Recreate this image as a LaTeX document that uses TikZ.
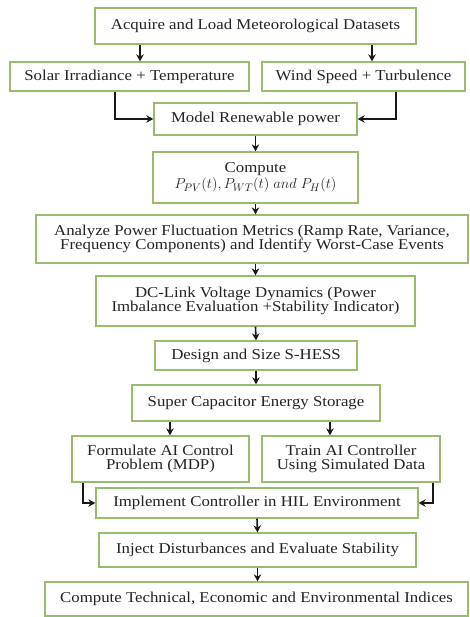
\documentclass[tikz,border=0pt]{standalone}
\usepackage{fontspec}
\setmainfont{Liberation Serif}[FakeStretch=1.12]
\usetikzlibrary{arrows.meta}
\definecolor{boxgreen}{RGB}{150,188,110}
\definecolor{txtgray}{RGB}{35,35,35}
\tikzset{
  box/.style={draw=boxgreen, line width=1.3pt, fill=white, align=center, inner sep=0pt,
    text=txtgray, font=\fontsize{15}{13.5}\selectfont},
  arr/.style={-{Stealth[length=7pt,width=7.5pt]}, line width=1.6pt, black!90}
}
\begin{document}
\begin{tikzpicture}[x=1pt,y=-1pt]
\useasboundingbox (0,0) rectangle (469,617);
\node[box, minimum width=321pt, minimum height=36pt] (acq) at (255.5,26) {Acquire and Load Meteorological Datasets};
\node[box, minimum width=239pt, minimum height=29pt] (sol) at (129.5,76.5) {Solar Irradiance + Temperature};
\node[box, minimum width=203pt, minimum height=29pt] (wind) at (363.5,76.5) {Wind Speed + Turbulence};
\node[box, minimum width=203pt, minimum height=32pt] (model) at (255.5,119) {Model Renewable power};
\node[box, minimum width=205pt, minimum height=51pt] (comp) at (255.5,177.5) {Compute\\[1pt] $P_{PV}(t), P_{WT}(t)\ and\ P_{H}(t)$};
\node[box, minimum width=432pt, minimum height=48pt] (ana) at (252,239) {Analyze Power Fluctuation Metrics (Ramp Rate, Variance,\\ Frequency Components) and Identify Worst-Case Events};
\node[box, minimum width=319pt, minimum height=50pt] (dc) at (255.5,301) {DC-Link Voltage Dynamics (Power\\ Imbalance Evaluation +Stability Indicator)};
\node[box, minimum width=202pt, minimum height=29pt] (des) at (256,355.5) {Design and Size S-HESS};
\node[box, minimum width=248pt, minimum height=36pt] (sup) at (256,403) {Super Capacitor Energy Storage};
\node[box, minimum width=177pt, minimum height=46pt] (form) at (160.5,459) {Formulate AI Control\\ Problem (MDP)};
\node[box, minimum width=178pt, minimum height=46pt] (train) at (351,459) {Train AI Controller\\ Using Simulated Data};
\node[box, minimum width=322pt, minimum height=30pt] (impl) at (257,503) {Implement Controller in HIL Environment};
\node[box, minimum width=317pt, minimum height=34pt] (inj) at (257.5,550) {Inject Disturbances and Evaluate Stability};
\node[box, minimum width=423pt, minimum height=34pt] (tech) at (256.5,599) {Compute Technical, Economic and Environmental Indices};

\draw[arr] (140,0 |- acq.south) -- (140,0 |- sol.north);
\draw[arr] (372,0 |- acq.south) -- (372,0 |- wind.north);
\draw[arr] (115,0 |- sol.south) |- (model.west);
\draw[arr] (396,0 |- wind.south) |- (model.east);
\draw[arr] (model.south) -- (comp.north);
\draw[arr] (comp.south) -- (comp.south |- ana.north);
\draw[arr] (ana.south -| dc.north) -- (dc.north);
\draw[arr] (dc.south) -- (des.north);
\draw[arr] (des.south) -- (sup.north);
\draw[arr] (170,0 |- sup.south) -- (170,0 |- form.north);
\draw[arr] (330,0 |- sup.south) -- (330,0 |- train.north);
\draw[arr] (83,0 |- form.south) |- (impl.west);
\draw[arr] (433,0 |- train.south) |- (impl.east);
\draw[arr] (impl.south) -- (inj.north);
\draw[arr] (inj.south) -- (inj.south |- tech.north);
\end{tikzpicture}
\end{document}
